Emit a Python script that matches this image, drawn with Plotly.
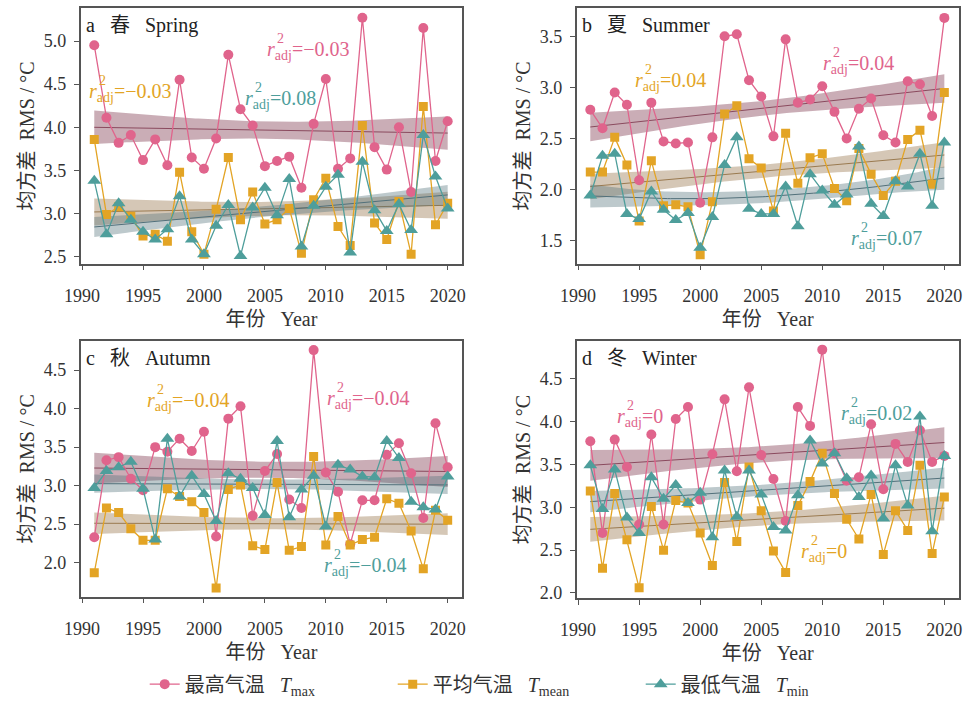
import math
import numpy as np
import plotly.graph_objects as go

years = list(range(1991, 2021))

# ---- data (RMS, degC) ----
spring_tmax = [4.95, 4.11, 3.82, 3.91, 3.62, 3.86, 3.56, 4.55, 3.65, 3.52, 3.87, 4.84, 4.21, 4.02, 3.55,
               3.61, 3.66, 3.30, 4.04, 4.56, 3.52, 3.64, 5.27, 3.77, 3.51, 4.00, 3.25, 5.15, 3.61, 4.07]
spring_tmean = [3.86, 2.99, 3.08, 2.97, 2.74, 2.76, 2.68, 3.48, 2.79, 2.53, 3.05, 3.65, 2.93, 3.25, 2.88,
                2.93, 3.06, 2.54, 3.16, 3.41, 2.85, 2.63, 4.02, 2.89, 2.70, 3.14, 2.53, 4.24, 2.87, 3.12]
spring_tmin = [3.38, 2.76, 3.12, 2.93, 2.79, 2.70, 2.82, 3.20, 2.70, 2.53, 2.86, 3.10, 2.51, 3.07, 3.30,
               2.98, 3.40, 2.62, 3.09, 3.31, 3.45, 2.55, 3.60, 3.04, 2.80, 3.11, 2.81, 3.91, 3.43, 3.06]

summer_tmax = [2.78, 2.60, 2.95, 2.83, 2.09, 2.85, 2.47, 2.45, 2.46, 1.87, 2.51, 3.50, 3.52, 3.07, 2.91,
               2.52, 3.47, 2.85, 2.88, 3.01, 2.76, 2.50, 2.79, 2.89, 2.53, 2.46, 3.06, 3.03, 2.72, 3.68]
summer_tmean = [2.17, 2.17, 2.51, 2.24, 1.69, 2.28, 1.84, 1.85, 1.83, 1.36, 1.88, 2.74, 2.82, 2.30, 2.21,
                1.79, 2.55, 2.06, 2.31, 2.35, 2.01, 1.89, 2.40, 2.15, 1.94, 2.08, 2.49, 2.58, 2.05, 2.95]
summer_tmin = [1.94, 2.33, 2.35, 1.76, 1.71, 1.98, 1.80, 1.70, 1.77, 1.43, 1.73, 2.24, 2.51, 1.81, 1.76,
               1.76, 2.03, 1.64, 2.15, 1.99, 1.85, 1.95, 2.42, 1.86, 1.74, 2.08, 2.03, 2.35, 1.84, 2.46]

autumn_tmax = [2.33, 3.33, 3.37, 3.09, 2.94, 3.50, 3.44, 3.61, 3.45, 3.70, 2.34, 3.87, 4.03, 2.61, 3.19,
               3.41, 2.82, 2.71, 4.76, 3.17, 2.92, 2.24, 2.81, 2.81, 3.40, 3.55, 3.16, 2.58, 3.81, 3.24]
autumn_tmean = [1.87, 2.71, 2.65, 2.44, 2.29, 2.29, 2.96, 2.86, 2.79, 2.65, 1.67, 2.95, 3.01, 2.22, 2.17,
                3.04, 2.16, 2.21, 3.38, 2.23, 2.60, 2.23, 2.30, 2.33, 2.83, 2.77, 2.41, 1.92, 2.68, 2.55]
autumn_tmin = [2.97, 3.19, 3.24, 3.31, 2.96, 2.30, 3.61, 2.86, 3.13, 2.89, 2.54, 3.16, 3.09, 2.97, 2.62,
               3.58, 2.59, 2.95, 3.13, 2.47, 3.27, 3.21, 3.12, 3.11, 3.58, 3.36, 2.79, 2.72, 2.69, 3.12]

winter_tmax = [3.77, 2.70, 3.79, 3.47, 2.80, 3.85, 2.80, 4.03, 4.17, 3.09, 3.62, 4.26, 3.42, 4.40, 3.61,
               3.33, 2.84, 4.17, 3.95, 4.84, 3.63, 3.31, 3.35, 3.97, 3.21, 3.74, 3.53, 3.90, 3.53, 3.60]
winter_tmean = [3.19, 2.29, 3.16, 2.62, 2.06, 3.01, 2.50, 3.08, 3.05, 2.70, 2.32, 3.29, 2.60, 3.47, 2.96,
                2.49, 2.24, 3.02, 3.30, 3.63, 3.16, 2.86, 2.63, 3.15, 2.45, 2.96, 2.73, 3.49, 2.46, 3.12]
winter_tmin = [3.49, 2.98, 3.44, 2.88, 2.70, 3.35, 3.10, 3.26, 3.05, 3.17, 2.65, 3.43, 2.89, 3.43, 3.15,
               2.77, 2.73, 3.14, 3.78, 3.51, 3.63, 3.34, 3.12, 3.37, 2.87, 3.49, 3.02, 4.06, 2.72, 3.60]

panel_titles = ["a\u00a0\u00a0\u00a0春\u00a0\u00a0\u00a0Spring", "b\u00a0\u00a0\u00a0夏\u00a0\u00a0\u00a0Summer",
                "c\u00a0\u00a0\u00a0秋\u00a0\u00a0\u00a0Autumn", "d\u00a0\u00a0\u00a0冬\u00a0\u00a0\u00a0Winter"]
series_names = ["最高气温\u00a0\u00a0\u00a0<i>T</i><sub>max</sub>",
                "平均气温\u00a0\u00a0\u00a0<i>T</i><sub>mean</sub>",
                "最低气温\u00a0\u00a0\u00a0<i>T</i><sub>min</sub>"]
# adjusted r^2 labels: (panel, series index, text, x-year, y-value)
r2_labels = [
    (0, 0, "−0.03", 2005.0, 4.94), (0, 1, "−0.03", 1990.4, 4.45), (0, 2, "0.08", 2003.2, 4.37),
    (1, 1, "0.04", 1994.5, 3.10), (1, 0, "0.04", 2009.9, 3.26), (1, 2, "0.07", 2012.2, 1.55),
    (2, 1, "−0.04", 1995.2, 4.15), (2, 0, "−0.04", 2009.9, 4.17), (2, 2, "−0.04", 2009.7, 2.00),
    (3, 0, "0", 1993.0, 4.10), (3, 2, "0.02", 2011.4, 4.13), (3, 1, "0", 2008.1, 2.52),
]

data = [(spring_tmax, spring_tmean, spring_tmin),
        (summer_tmax, summer_tmean, summer_tmin),
        (autumn_tmax, autumn_tmean, autumn_tmin),
        (winter_tmax, winter_tmean, winter_tmin)]

yranges = [[2.42, 5.38], [1.273, 3.775], [1.559, 4.877], [1.94, 4.94]]
yticks = [[2.5, 3.0, 3.5, 4.0, 4.5, 5.0], [1.5, 2.0, 2.5, 3.0, 3.5],
          [2.0, 2.5, 3.0, 3.5, 4.0, 4.5], [2.0, 2.5, 3.0, 3.5, 4.0, 4.5]]

W, H = 968, 704
xdoms = [[80.5 / W, 462.3 / W], [576.5 / W, 959 / W], [80.5 / W, 462.3 / W], [576.5 / W, 959 / W]]
ydoms = [[1 - 266.7 / H, 1 - 8.3 / H], [1 - 266.7 / H, 1 - 8.3 / H],
         [1 - 603.5 / H, 1 - 345 / H], [1 - 605 / H, 1 - 345 / H]]

colors = ["#E0648C", "#E3A425", "#4E9E9B"]
symbols = ["circle", "square", "triangle-up"]
msizes = [10, 9, 12]
trend_colors = ["#8A4A5E", "#9A7A50", "#52707A"]
band_colors = ["rgba(138,74,94,0.45)", "rgba(154,122,80,0.42)", "rgba(82,112,122,0.38)"]

SERIF = "Liberation Serif, 'Times New Roman', 'Noto Sans CJK SC', serif"


def bbase(u, nseg=7, deg=3):
    dx = 1.0 / nseg
    knots = np.arange(-deg, nseg + deg + 1) * dx
    P = np.where(u[:, None] >= knots[None, :], (u[:, None] - knots[None, :]) ** deg, 0.0)
    n = len(knots)
    D = np.diff(np.eye(n), n=deg + 1, axis=0) / (math.gamma(deg + 1) * dx ** deg)
    return (-1) ** (deg + 1) * P @ D.T


def smooth_fit(x, y, xg, gamma=1.4):
    """Penalised regression spline (P-spline), smoothing chosen by GCV."""
    x0, x1 = x.min(), x.max()
    u = (x - x0) / (x1 - x0)
    ug = (xg - x0) / (x1 - x0)
    B = bbase(u)
    Bg = bbase(ug)
    k = B.shape[1]
    D2 = np.diff(np.eye(k), n=2, axis=0)
    Pen = D2.T @ D2
    n = len(y)
    best = None
    for lam in np.logspace(-3, 9, 300):
        M = B.T @ B + lam * Pen
        Minv = np.linalg.inv(M)
        beta = Minv @ B.T @ y
        edf = np.trace(B @ Minv @ B.T)
        rss = float(np.sum((y - B @ beta) ** 2))
        g = n * rss / (n - gamma * edf) ** 2
        if best is None or g < best[0]:
            best = (g, beta, Minv, rss, edf)
    _, beta, Minv, rss, edf = best
    sig2 = rss / (n - edf)
    fit = Bg @ beta
    se = np.sqrt(np.einsum("ij,jk,ik->i", Bg, Minv * sig2, Bg))
    return fit, se


fig = go.Figure()
x_arr = np.array(years, dtype=float)
xg = np.linspace(1991, 2020, 120)

for p in range(4):
    xa = "x" if p == 0 else f"x{p+1}"
    ya = "y" if p == 0 else f"y{p+1}"
    for s in range(3):
        yv = np.array(data[p][s], dtype=float)
        fit, se = smooth_fit(x_arr, yv, xg)
        fig.add_trace(go.Scatter(
            x=np.concatenate([xg, xg[::-1]]), y=np.concatenate([fit + se, (fit - se)[::-1]]),
            fill="toself", fillcolor=band_colors[s], line=dict(width=0), mode="lines",
            hoverinfo="skip", showlegend=False, xaxis=xa, yaxis=ya))
        fig.add_trace(go.Scatter(
            x=xg, y=fit, mode="lines", line=dict(color=trend_colors[s], width=1),
            hoverinfo="skip", showlegend=False, xaxis=xa, yaxis=ya))
    for s in range(3):
        fig.add_trace(go.Scatter(
            x=years, y=data[p][s], mode="lines+markers", name=series_names[s],
            line=dict(color=colors[s], width=1.3),
            marker=dict(symbol=symbols[s], size=msizes[s], color=colors[s]),
            showlegend=(p == 0), legendgroup=str(s), xaxis=xa, yaxis=ya))

axis_common = dict(showline=True, linecolor="#555", linewidth=1.5, mirror=True, ticks="outside",
                   ticklen=5, tickcolor="#555", showgrid=False, zeroline=False, automargin=False,
                   tickfont=dict(family=SERIF, size=18, color="#333"))
layout = dict()
for p in range(4):
    xk = "xaxis" if p == 0 else f"xaxis{p+1}"
    yk = "yaxis" if p == 0 else f"yaxis{p+1}"
    ya = "y" if p == 0 else f"y{p+1}"
    xa = "x" if p == 0 else f"x{p+1}"
    layout[xk] = dict(axis_common, domain=xdoms[p], anchor=ya, range=[1989.87, 2021.2],
                      tickvals=[1990, 1995, 2000, 2005, 2010, 2015, 2020], ticklabelstandoff=10,
                      title=dict(text="年份\u00a0\u00a0\u00a0Year", standoff=7,
                                 font=dict(family=SERIF, size=20, color="#333")))
    layout[yk] = dict(axis_common, domain=ydoms[p], anchor=xa, range=yranges[p],
                      tickvals=yticks[p], tickformat=".1f", ticklabelstandoff=4,
                      title=dict(text="均方差\u00a0\u00a0RMS\u00a0/\u00a0°C", standoff=4,
                                 font=dict(family=SERIF, size=20, color="#333")))

annotations = []
for p in range(4):
    xr = "x" if p == 0 else f"x{p+1}"
    yr = "y" if p == 0 else f"y{p+1}"
    annotations.append(dict(text=panel_titles[p], xref=f"{xr} domain", yref=f"{yr} domain",
                            x=0.01, y=0.985, xanchor="left", yanchor="top", showarrow=False,
                            font=dict(family=SERIF, size=20, color="#222")))
for (p, s, val, xv, yv) in r2_labels:
    xr = "x" if p == 0 else f"x{p+1}"
    yr = "y" if p == 0 else f"y{p+1}"
    annotations.append(dict(text=f"<i>r</i><sub>adj</sub>={val}", xref=xr, yref=yr, x=xv, y=yv,
                            xanchor="left", yanchor="middle", yshift=-4, showarrow=False,
                            font=dict(family=SERIF, size=20, color=colors[s])))
    annotations.append(dict(text="2", xref=xr, yref=yr, x=xv, y=yv, xanchor="left", yanchor="middle",
                            xshift=10, yshift=8, showarrow=False,
                            font=dict(family=SERIF, size=14, color=colors[s])))

fig.update_layout(
    **layout,
    annotations=annotations,
    width=W, height=H,
    margin=dict(l=0, r=0, t=0, b=0),
    paper_bgcolor="white", plot_bgcolor="white",
    showlegend=True,
    legend=dict(orientation="h", x=0.1495, xanchor="left", y=1 - 692 / H, yanchor="middle",
                font=dict(family=SERIF, size=20, color="#333"), entrywidth=203,
                entrywidthmode="pixels", bgcolor="rgba(0,0,0,0)"),
)

fig.write_html("out.html")
